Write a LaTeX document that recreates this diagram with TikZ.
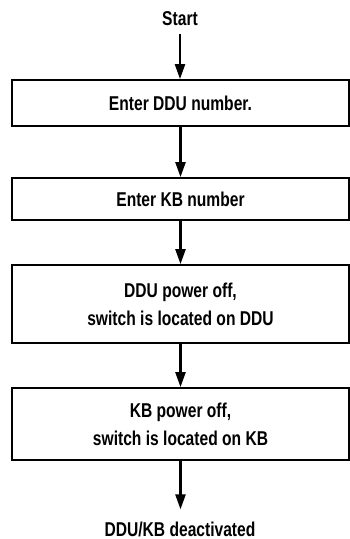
\documentclass[tikz,border=0pt]{standalone}
\usepackage{fontspec}
\setmainfont{Liberation Sans}[FakeStretch=0.78]
\usepackage{tikz}
\usetikzlibrary{arrows.meta,positioning}

\tikzset{
  stepbox/.style={draw,line width=1.8pt,minimum width=337pt,align=center,
    inner sep=0pt,font=\fontsize{20}{28}\selectfont\bfseries},
  termtext/.style={font=\fontsize{20}{28}\selectfont\bfseries,inner sep=0pt},
  flow/.style={line width=2.4pt,-{Triangle[length=15pt,width=10pt]}}
}

\begin{document}
\begin{tikzpicture}[x=1pt,y=-1pt]
        \useasboundingbox (0,0) rectangle (350,539);
        % Terminals
        \node[termtext] (start) at (180,19) {Start};
        \node[termtext] (done) at (180,529) {DDU/KB deactivated};
        % Steps
        \node[stepbox,minimum height=46pt] (ddu) at (180.5,103) {Enter DDU number.};
        \node[stepbox,minimum height=42pt] (kb) at (180.5,199) {Enter KB number};
        \node[stepbox,minimum height=78pt] (dduoff) at (180.5,304)
          {DDU power off,\\switch is located on DDU};
        \node[stepbox,minimum height=72pt] (kboff) at (180.5,424)
          {KB power off,\\switch is located on KB};
        % Arrows
        \draw[flow,shorten <=8pt] (start) -- (start|-ddu.north);
        \draw[flow] (ddu) -- (ddu|-kb.north);
        \draw[flow] (kb) -- (kb|-dduoff.north);
        \draw[flow] (dduoff) -- (dduoff|-kboff.north);
        \draw[flow,shorten >=12pt] (kboff) -- (kboff|-done.north);
\end{tikzpicture}
\end{document}
